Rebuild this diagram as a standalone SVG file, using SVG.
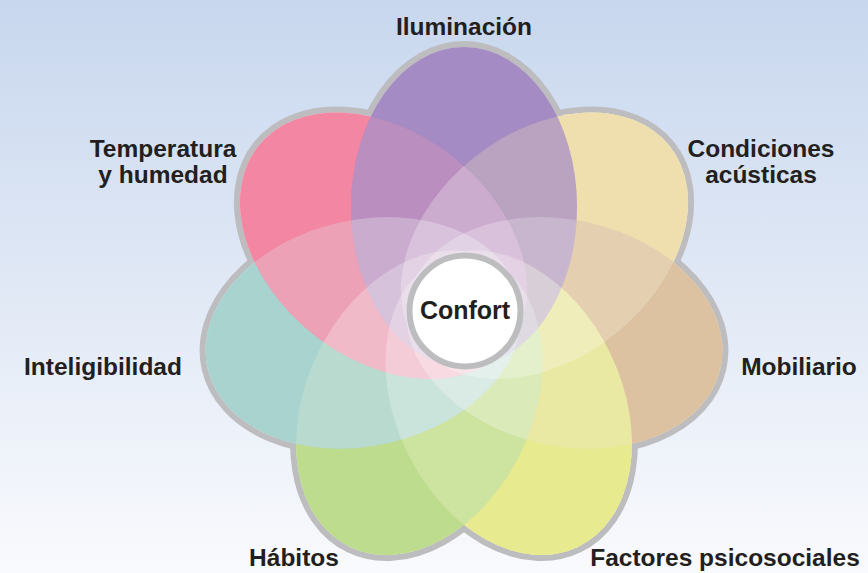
<svg xmlns="http://www.w3.org/2000/svg" xmlns:xlink="http://www.w3.org/1999/xlink" width="868" height="573" viewBox="0 0 868 573">
  <defs>
    <linearGradient id="bg" x1="0" y1="0" x2="0" y2="1">
      <stop offset="0" stop-color="#C8D7EE"/>
      <stop offset="1" stop-color="#F9FAFD"/>
    </linearGradient>
    <ellipse id="p0" cx="0" cy="0" rx="160" ry="113" transform="translate(464,207) rotate(-90)"/>
    <ellipse id="p1" cx="0" cy="0" rx="160" ry="113" transform="translate(544.5,245.8) rotate(-38.571)"/>
    <ellipse id="p2" cx="0" cy="0" rx="160" ry="113" transform="translate(564.4,332.9) rotate(12.857)"/>
    <ellipse id="p3" cx="0" cy="0" rx="160" ry="113" transform="translate(508.7,402.8) rotate(64.286)"/>
    <ellipse id="p4" cx="0" cy="0" rx="160" ry="113" transform="translate(419.3,402.8) rotate(115.714)"/>
    <ellipse id="p5" cx="0" cy="0" rx="160" ry="113" transform="translate(363.6,332.9) rotate(167.143)"/>
    <ellipse id="p6" cx="0" cy="0" rx="160" ry="113" transform="translate(383.5,245.8) rotate(218.571)"/>
  </defs>
  <style>
    .rim { fill: none; stroke: #BDBDC0; stroke-width: 12; }
    .base { fill: #FFFFFF; }
    .petal { fill-opacity: 0.85; }
    .glaze { fill: #FFFFFF; fill-opacity: 0.27; }
    .lbl { font-family: "Liberation Sans", Arial, sans-serif; font-weight: bold; font-size: 24.5px; fill: #231F20; text-anchor: middle; }
  </style>

  <rect x="0" y="0" width="868" height="573" fill="url(#bg)"/>

  <g id="outline">
    <use xlink:href="#p0" class="rim"/>
    <use xlink:href="#p1" class="rim"/>
    <use xlink:href="#p2" class="rim"/>
    <use xlink:href="#p3" class="rim"/>
    <use xlink:href="#p4" class="rim"/>
    <use xlink:href="#p5" class="rim"/>
    <use xlink:href="#p6" class="rim"/>
    <use xlink:href="#p0" class="base"/>
    <use xlink:href="#p1" class="base"/>
    <use xlink:href="#p2" class="base"/>
    <use xlink:href="#p3" class="base"/>
    <use xlink:href="#p4" class="base"/>
    <use xlink:href="#p5" class="base"/>
    <use xlink:href="#p6" class="base"/>
  </g>

  <g id="condiciones-acusticas">
    <use xlink:href="#p1" class="petal" fill="#E7CB7C"/>
    <text class="lbl" x="761" y="157">Condiciones</text>
    <text class="lbl" x="761" y="183">acústicas</text>
  </g>
  <g id="mobiliario">
    <use xlink:href="#p2" class="petal" fill="#C79E69"/>
    <text class="lbl" x="799" y="375">Mobiliario</text>
  </g>
  <g id="factores-psicosociales">
    <use xlink:href="#p3" class="petal" fill="#DADD4B"/>
    <text class="lbl" x="725" y="566">Factores psicosociales</text>
  </g>
  <g id="habitos">
    <use xlink:href="#p4" class="petal" fill="#96C749"/>
    <text class="lbl" x="294" y="566">Hábitos</text>
  </g>
  <g id="inteligibilidad">
    <use xlink:href="#p5" class="petal" fill="#74B8B3"/>
    <text class="lbl" x="103" y="375">Inteligibilidad</text>
  </g>
  <g id="temperatura-humedad">
    <use xlink:href="#p6" class="petal" fill="#EC3C6C"/>
    <text class="lbl" x="163" y="157">Temperatura</text>
    <text class="lbl" x="163" y="183">y humedad</text>
  </g>
  <g id="iluminacion">
    <use xlink:href="#p0" fill="#4F1C8A" fill-opacity="0.7"/>
    <text class="lbl" x="464" y="35">Iluminación</text>
  </g>

  <g id="glaze">
    <use xlink:href="#p0" class="glaze"/>
    <use xlink:href="#p1" class="glaze"/>
    <use xlink:href="#p2" class="glaze"/>
    <use xlink:href="#p3" class="glaze"/>
    <use xlink:href="#p4" class="glaze"/>
    <use xlink:href="#p5" class="glaze"/>
    <use xlink:href="#p6" class="glaze"/>
  </g>

  <g id="confort">
    <circle cx="465" cy="311" r="55.5" fill="#FFFFFF" stroke="#BDBDC0" stroke-width="6"/>
    <text class="lbl" x="465" y="319" style="font-size:25px">Confort</text>
  </g>
</svg>
